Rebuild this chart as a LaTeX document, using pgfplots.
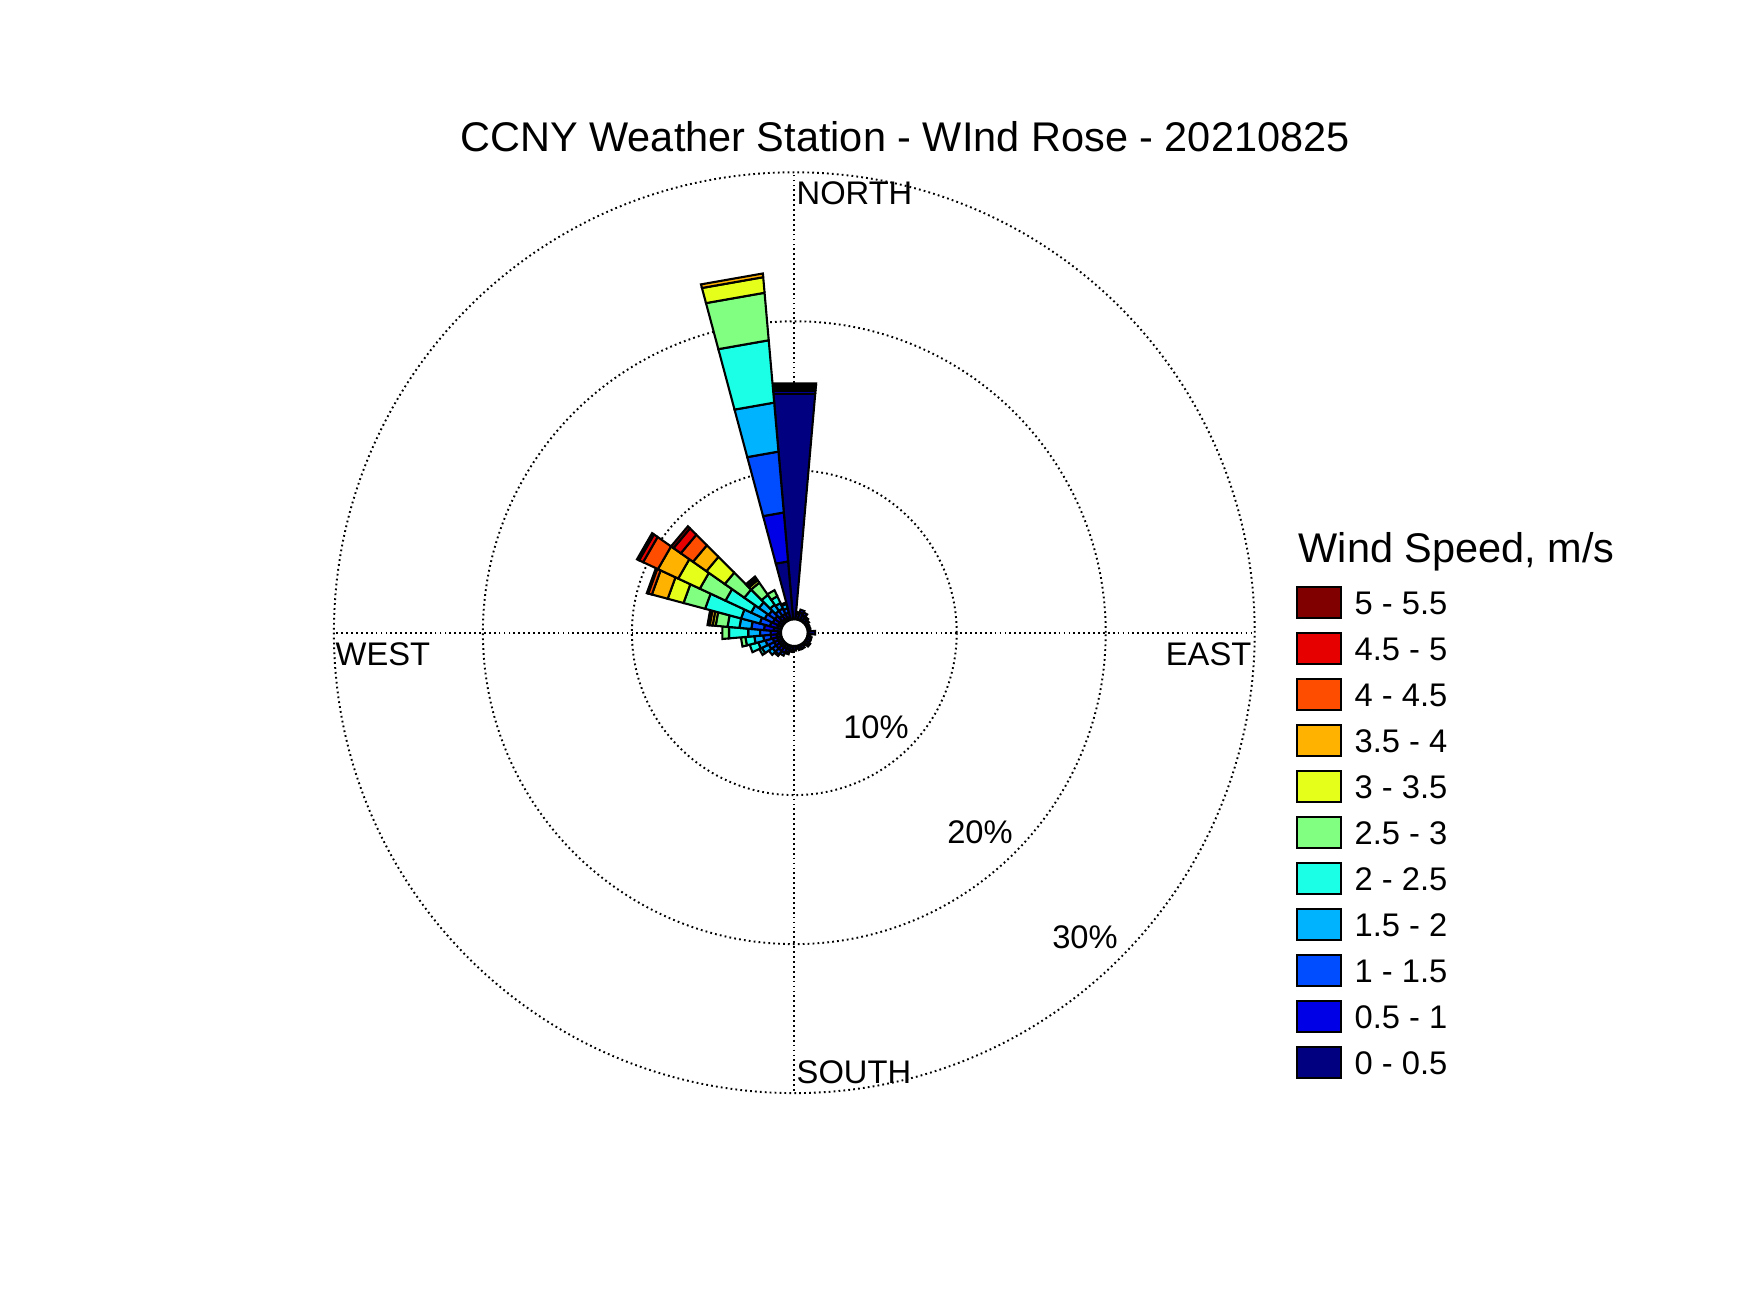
\documentclass[border=0pt]{standalone}
\usepackage{fontspec}
\setmainfont{Liberation Sans}
\usepackage{pgfplots}
\usepackage{pgfplotstable}
\pgfplotsset{compat=1.18}

\definecolor{wc1}{RGB}{0,0,128}
\definecolor{wc2}{RGB}{0,0,230}
\definecolor{wc3}{RGB}{0,77,255}
\definecolor{wc4}{RGB}{0,179,255}
\definecolor{wc5}{RGB}{26,255,230}
\definecolor{wc6}{RGB}{128,255,128}
\definecolor{wc7}{RGB}{230,255,26}
\definecolor{wc8}{RGB}{255,179,0}
\definecolor{wc9}{RGB}{255,77,0}
\definecolor{wc10}{RGB}{230,0,0}
\definecolor{wc11}{RGB}{128,0,0}

% cumulative frequency (%) by direction (deg from north, clockwise), speed bins 0-0.5 ... 5-5.5 m/s
\pgfplotstableread{
dir c1 c2 c3 c4 c5 c6 c7 c8 c9 c10 c11
0   15.2 15.4 15.55 15.7 15.8 15.9 15.9 15.9 15.9 15.9 15.9
10  0.4 0.5 0.5 0.5 0.5 0.5 0.5 0.5 0.5 0.5 0.5
20  0.5 0.7 0.7 0.7 0.7 0.7 0.7 0.7 0.7 0.7 0.7
30  0.4 0.6 0.6 0.6 0.6 0.6 0.6 0.6 0.6 0.6 0.6
40  0.3 0.4 0.4 0.4 0.4 0.4 0.4 0.4 0.4 0.4 0.4
50  0.3 0.3 0.3 0.3 0.3 0.3 0.3 0.3 0.3 0.3 0.3
60  0.2 0.2 0.2 0.2 0.2 0.2 0.2 0.2 0.2 0.2 0.2
70  0.2 0.2 0.2 0.2 0.2 0.2 0.2 0.2 0.2 0.2 0.2
80  0.2 0.2 0.2 0.2 0.2 0.2 0.2 0.2 0.2 0.2 0.2
90  0.5 0.5 0.5 0.5 0.5 0.5 0.5 0.5 0.5 0.5 0.5
100 0.2 0.2 0.2 0.2 0.2 0.2 0.2 0.2 0.2 0.2 0.2
110 0.3 0.3 0.3 0.3 0.3 0.3 0.3 0.3 0.3 0.3 0.3
120 0.3 0.3 0.3 0.3 0.3 0.3 0.3 0.3 0.3 0.3 0.3
130 0.3 0.4 0.4 0.4 0.4 0.4 0.4 0.4 0.4 0.4 0.4
140 0.2 0.2 0.2 0.2 0.2 0.2 0.2 0.2 0.2 0.2 0.2
150 0.3 0.3 0.3 0.3 0.3 0.3 0.3 0.3 0.3 0.3 0.3
160 0.3 0.3 0.3 0.3 0.3 0.3 0.3 0.3 0.3 0.3 0.3
170 0.2 0.2 0.2 0.2 0.2 0.2 0.2 0.2 0.2 0.2 0.2
180 0.3 0.3 0.3 0.3 0.3 0.3 0.3 0.3 0.3 0.3 0.3
190 0.3 0.4 0.4 0.4 0.4 0.4 0.4 0.4 0.4 0.4 0.4
200 0.3 0.5 0.6 0.6 0.6 0.6 0.6 0.6 0.6 0.6 0.6
210 0.3 0.6 0.8 0.8 0.8 0.8 0.8 0.8 0.8 0.8 0.8
220 0.3 0.6 0.9 1.0 1.0 1.0 1.0 1.0 1.0 1.0 1.0
230 0.3 0.6 0.9 1.2 1.2 1.2 1.2 1.2 1.2 1.2 1.2
240 0.3 0.6 1.0 1.5 1.7 1.7 1.7 1.7 1.7 1.7 1.7
250 0.3 0.6 1.1 1.6 2.2 2.2 2.2 2.2 2.2 2.2 2.2
260 0.3 0.7 1.2 1.8 2.4 2.7 2.7 2.7 2.7 2.7 2.7
270 0.2 0.7 1.4 2.2 3.5 3.95 3.95 3.95 3.95 3.95 3.95
280 0.5 1.15 2.0 2.8 3.6 4.4 4.6 4.8 4.95 4.95 4.95
290 0.3 0.8 1.5 2.8 5.3 6.8 7.9 9.0 9.25 9.35 9.35
300 0.3 0.7 1.3 2.3 4.2 6.1 7.7 9.2 10.3 10.6 10.75
310 0.3 0.7 1.2 2.0 3.2 4.8 6.3 7.4 8.4 9.0 9.2
320 0.2 0.5 0.9 1.4 2.2 3.2 3.4 3.55 3.7 3.7 3.7
330 0.2 0.5 0.9 1.3 1.8 2.25 2.25 2.25 2.25 2.25 2.25
340 0.2 0.5 0.8 1.1 1.2 1.2 1.2 1.2 1.2 1.2 1.2
350 3.9 7.2 11.3 14.6 18.8 22.0 23.05 23.3 23.3 23.3 23.3
}\windtable

\newcommand\hole{0.9}
\newcommand\drawbin[2]{%
  \pgfplotstablegetelem{#1}{c#2}\of\windtable
  \edef\cur{\pgfplotsretval}%
  \pgfmathtruncatemacro\flag{(\cur>\prev+0.001) ? 1 : 0}%
  \ifnum\flag=1
    \pgfmathsetmacro\aA{90-\dir-5}%
    \pgfmathsetmacro\aB{90-\dir+5}%
    \pgfmathsetmacro\rA{\prev+\hole}%
    \pgfmathsetmacro\rB{\cur+\hole}%
    \edef\cmd{\noexpand\addplot[draw=black,line width=0.6pt,line join=miter,fill=wc#2,mark=none,data cs=polar]
      coordinates {(\aA,\rA) (\aB,\rA) (\aB,\rB) (\aA,\rB) (\aA,\rA)};}%
    \cmd
  \fi
  \let\prev\cur}
\newcommand\drawrow[1]{%
  \pgfplotstablegetelem{#1}{dir}\of\windtable
  \edef\dir{\pgfplotsretval}%
  \def\prev{0}%
  \drawbin{#1}{1}\drawbin{#1}{2}\drawbin{#1}{3}\drawbin{#1}{4}%
  \drawbin{#1}{5}\drawbin{#1}{6}\drawbin{#1}{7}\drawbin{#1}{8}%
  \drawbin{#1}{9}\drawbin{#1}{10}\drawbin{#1}{11}}

\begin{document}
\begin{tikzpicture}
\useasboundingbox (0,0) rectangle (17.5,13.13);
% grid
\begin{scope}[shift={(7.943,6.803)}, line width=0.55pt, dash pattern=on 0.5pt off 0.9pt]
  \draw (0,0) circle [radius=1.6241cm];
  \draw (0,0) circle [radius=3.1141cm];
  \draw (0,0) circle [radius=4.6041cm];
  \draw (0.1341,0) -- (4.6041,0);
  \draw (-0.1341,0) -- (-4.6041,0);
  \draw (0,0.1341) -- (0,4.6041);
  \draw (0,-0.1341) -- (0,-4.6041);
\end{scope}
\begin{axis}[
  at={(7.943cm,6.803cm)}, anchor=center,
  x=0.149cm, y=0.149cm,
  xmin=-32, xmax=32, ymin=-32, ymax=32,
  hide axis, clip=false,
]
\pgfplotsforeachungrouped \i in {0,...,35}{\drawrow{\i}}
\end{axis}
% labels
\node[anchor=base, inner sep=0, font=\fontsize{11.8}{14}\selectfont] at (9.05,11.61) {CCNY Weather Station - WInd Rose - 20210825};
\begin{scope}[every node/.style={inner sep=0, font=\fontsize{9.3}{11}\selectfont}]
  \node[anchor=base west] at (7.96,11.08) {NORTH};
  \node[anchor=base west] at (7.96,2.294) {SOUTH};
  \node[anchor=base west] at (3.35,6.479) {WEST};
  \node[anchor=base east] at (12.52,6.479) {EAST};
  \node[anchor=base] at (8.76,5.742) {10\%};
  \node[anchor=base] at (9.80,4.693) {20\%};
  \node[anchor=base] at (10.85,3.644) {30\%};
\end{scope}
% legend
\node[anchor=base west, inner sep=0, font=\fontsize{11.8}{14}\selectfont] at (12.98,7.50) {Wind Speed, m/s};
\foreach \k/\lab [count=\n from 0] in {11/5 - 5.5, 10/4.5 - 5, 9/4 - 4.5, 8/3.5 - 4, 7/3 - 3.5, 6/2.5 - 3, 5/2 - 2.5, 4/1.5 - 2, 3/1 - 1.5, 2/0.5 - 1, 1/0 - 0.5}{
  \pgfmathsetmacro\yc{7.104-0.46*\n}
  \draw[fill=wc\k, line width=0.7pt] (12.97,\yc-0.155) rectangle (13.41,\yc+0.155);
  \node[anchor=base west, inner sep=0, font=\fontsize{9.3}{11}\selectfont] at (13.54,\yc-0.117) {\lab};
}
\end{tikzpicture}
\end{document}
